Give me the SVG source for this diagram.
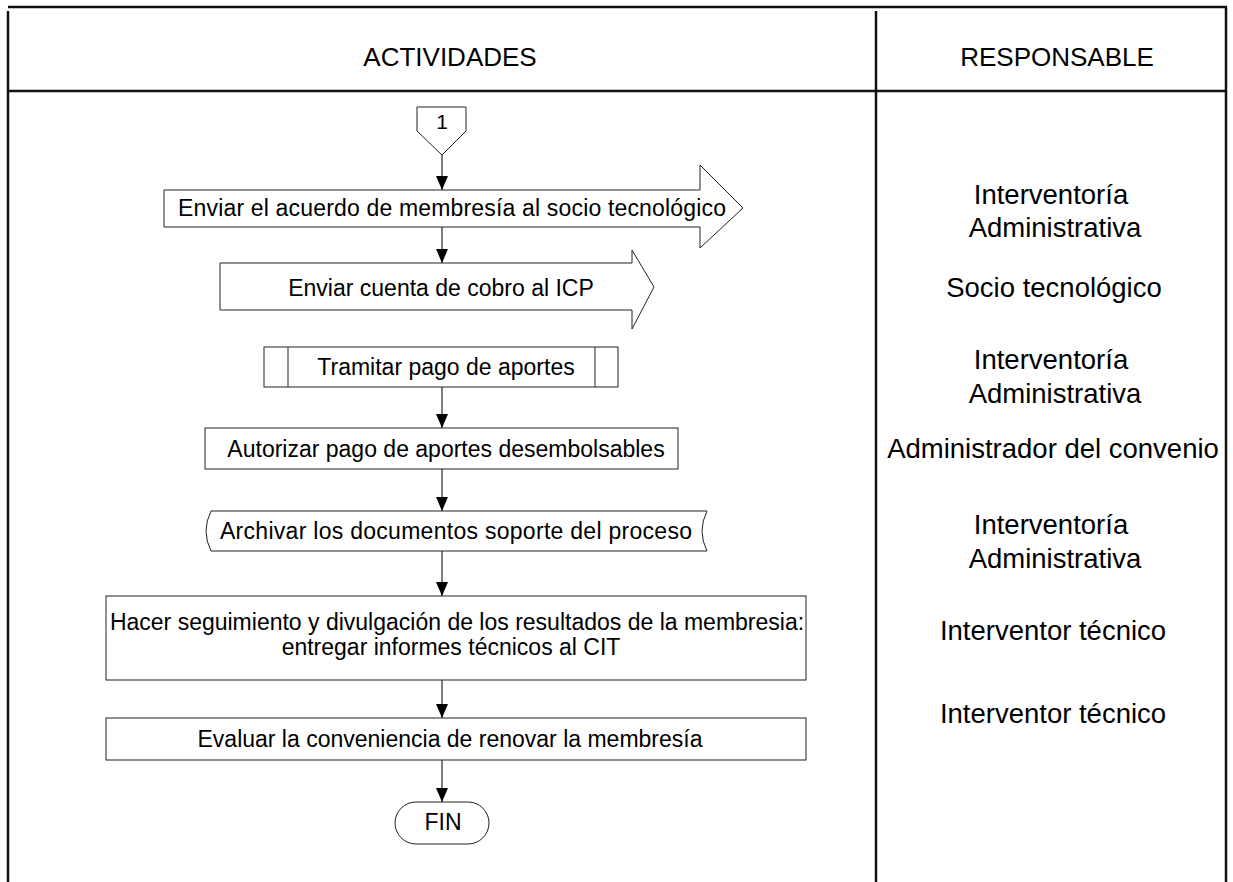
<svg xmlns="http://www.w3.org/2000/svg" width="1233" height="882" viewBox="0 0 1233 882">
  <defs>
    <marker id="arrow" markerWidth="14" markerHeight="12" refX="14" refY="6" orient="auto" markerUnits="userSpaceOnUse" viewBox="0 0 14 12">
      <path d="M0,0 L14,6 L0,12 Z" fill="#000"/>
    </marker>
    <style>
      .frame { stroke: #111; stroke-width: 2.5; fill: none; }
      .shape { fill: #fff; stroke: #222; stroke-width: 1; }
      .conn { stroke: #000; stroke-width: 1; fill: none; }
      .t { font-family: "Liberation Sans", Arial, sans-serif; font-size: 23px; fill: #000; text-anchor: middle; }
      .n { font-family: "Liberation Sans", Arial, sans-serif; font-size: 21px; fill: #000; text-anchor: middle; }
      .h { font-family: "Liberation Sans", Arial, sans-serif; font-size: 26px; fill: #000; text-anchor: middle; }
      .r { font-family: "Liberation Sans", Arial, sans-serif; font-size: 27.5px; fill: #000; text-anchor: middle; }
    </style>
  </defs>
  <rect width="1233" height="882" fill="#fff"/>

  <!-- table frame -->
  <g id="table">
    <line class="frame" x1="8" y1="7" x2="1227" y2="7" stroke-width="3"/>
    <line class="frame" x1="8" y1="11" x2="8" y2="882"/>
    <line class="frame" x1="876" y1="11" x2="876" y2="882"/>
    <line class="frame" x1="1226" y1="7" x2="1226" y2="882"/>
    <line class="frame" x1="8" y1="91" x2="1226" y2="91"/>
    <text class="h" x="450" y="66">ACTIVIDADES</text>
    <text class="h" x="1057" y="66">RESPONSABLE</text>
  </g>

  <!-- connectors -->
  <g id="connectors">
    <line class="conn" x1="442" y1="155" x2="442" y2="190" marker-end="url(#arrow)"/>
    <line class="conn" x1="442" y1="227" x2="442" y2="263" marker-end="url(#arrow)"/>
    <line class="conn" x1="442" y1="387" x2="442" y2="428" marker-end="url(#arrow)"/>
    <line class="conn" x1="442" y1="469" x2="442" y2="511" marker-end="url(#arrow)"/>
    <line class="conn" x1="442" y1="551" x2="442" y2="596" marker-end="url(#arrow)"/>
    <line class="conn" x1="442" y1="680" x2="442" y2="718" marker-end="url(#arrow)"/>
    <line class="conn" x1="442" y1="760" x2="442" y2="802" marker-end="url(#arrow)"/>
  </g>

  <!-- off-page connector -->
  <g id="n-start">
    <path class="shape" d="M417,107 L466,107 L466,131 L442,155 L417,131 Z"/>
    <text class="n" x="442" y="129">1</text>
  </g>

  <g id="n-enviar-acuerdo">
    <path class="shape" d="M164,190 L700,190 L700,165 L743,208 L700,248 L700,227 L164,227 Z"/>
    <text class="t" x="452" y="216" textLength="548" lengthAdjust="spacing">Enviar el acuerdo de membresía al socio tecnológico</text>
  </g>

  <g id="n-cuenta-cobro">
    <path class="shape" d="M220,263 L632,263 L632,250 L654,287 L632,329 L632,310 L220,310 Z"/>
    <text class="t" x="441" y="296">Enviar cuenta de cobro al ICP</text>
  </g>

  <g id="n-tramitar">
    <rect class="shape" x="264" y="347" width="354" height="40"/>
    <line class="shape" x1="288" y1="347" x2="288" y2="387"/>
    <line class="shape" x1="595" y1="347" x2="595" y2="387"/>
    <text class="t" x="446" y="375">Tramitar pago de aportes</text>
  </g>

  <g id="n-autorizar">
    <rect class="shape" x="205" y="428" width="473" height="41"/>
    <text class="t" x="446" y="457">Autorizar pago de aportes desembolsables</text>
  </g>

  <g id="n-archivar">
    <path class="shape" d="M211,511 L707,511 Q697,531 707,551 L211,551 Q201,531 211,511 Z"/>
    <text class="t" x="456" y="539" textLength="472" lengthAdjust="spacing">Archivar los documentos soporte del proceso</text>
  </g>

  <g id="n-seguimiento">
    <rect class="shape" x="106" y="596" width="700" height="84"/>
    <text class="t" x="457" y="630">Hacer seguimiento y divulgación de los resultados de la membresia:</text>
    <text class="t" x="451" y="655">entregar informes técnicos al CIT</text>
  </g>

  <g id="n-evaluar">
    <rect class="shape" x="106" y="718" width="700" height="42"/>
    <text class="t" x="450" y="747">Evaluar la conveniencia de renovar la membresía</text>
  </g>

  <g id="n-fin">
    <rect class="shape" x="395" y="802" width="94" height="42" rx="21" ry="21"/>
    <text class="t" x="443" y="830">FIN</text>
  </g>

  <!-- responsible column -->
  <g id="responsables">
    <text class="r" x="1051" y="204">Interventoría</text>
    <text class="r" x="1055" y="237">Administrativa</text>
    <text class="r" x="1054" y="297">Socio tecnológico</text>
    <text class="r" x="1051" y="369">Interventoría</text>
    <text class="r" x="1055" y="403">Administrativa</text>
    <text class="r" x="1053" y="458">Administrador del convenio</text>
    <text class="r" x="1051" y="534">Interventoría</text>
    <text class="r" x="1055" y="568">Administrativa</text>
    <text class="r" x="1053" y="640">Interventor técnico</text>
    <text class="r" x="1053" y="723">Interventor técnico</text>
  </g>
</svg>
